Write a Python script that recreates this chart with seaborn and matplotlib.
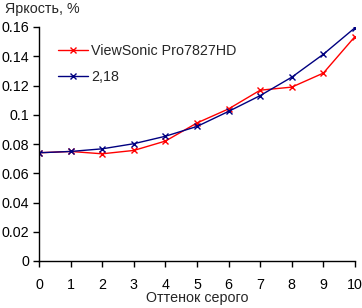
import matplotlib
matplotlib.use("Agg")
import matplotlib.pyplot as plt
import seaborn as sns
import pandas as pd

gray_levels = [0, 1, 2, 3, 4, 5, 6, 7, 8, 9, 10]
viewsonic = [0.074, 0.0749, 0.0733, 0.0756, 0.082, 0.0944, 0.104, 0.1168, 0.1189, 0.1285, 0.1535]
gamma_218 = [0.074, 0.0749, 0.0767, 0.0802, 0.0853, 0.092, 0.1023, 0.1131, 0.1257, 0.1414, 0.1595]
series_names = ["ViewSonic Pro7827HD", "2,18"]
y_ticks = [0, 0.02, 0.04, 0.06, 0.08, 0.1, 0.12, 0.14, 0.16]
y_tick_labels = ["0", "0.02", "0.04", "0.06", "0.08", "0.1", "0.12", "0.14", "0.16"]

df = pd.DataFrame({
    "x": gray_levels * 2,
    "y": viewsonic + gamma_218,
    "s": [series_names[0]] * len(gray_levels) + [series_names[1]] * len(gray_levels),
})

sns.set_style("ticks")
plt.rcParams["font.family"] = ["Liberation Sans", "DejaVu Sans"]
fs = 10.3
plt.rcParams["font.size"] = fs

fig = plt.figure(figsize=(3.62, 3.08), dpi=100)
ax = fig.add_axes([39 / 362, 47 / 308, (355 - 39) / 362, (261 - 27) / 308])

sns.lineplot(data=df, x="x", y="y", hue="s", palette=["#FF0000", "#000080"],
             marker="x", markersize=4, linewidth=1, ax=ax, legend=True)

for ln in ax.lines:
    ln.set_markeredgecolor(ln.get_color())
    ln.set_markeredgewidth(1)

ax.set_xlim(0, 10)
ax.set_ylim(0, 0.16)
ax.set_xticks(gray_levels)
ax.set_xticklabels([str(v) for v in gray_levels])
ax.set_yticks(y_ticks)
ax.set_yticklabels(y_tick_labels)
ax.tick_params(axis="both", direction="out", length=4, width=1, color="black",
               labelsize=fs, labelcolor="black", pad=3)
ax.tick_params(axis="x", pad=8)
for side in ["top", "right"]:
    ax.spines[side].set_visible(False)
for side in ["left", "bottom"]:
    ax.spines[side].set_color("black")
    ax.spines[side].set_linewidth(1)
ax.set_xlabel("")
ax.set_ylabel("")
ax.grid(False)

fig.text(5 / 362, 1 - 9 / 308, "Яркость, %", ha="left", va="center", fontsize=fs)
fig.text((39 + 355) / 2 / 362, 1 - 298 / 308, "Оттенок серого", ha="center", va="center", fontsize=fs)

leg = ax.legend(loc="upper left", bbox_to_anchor=(6 / 316, 1 - 4 / 234), frameon=False,
                fontsize=fs, handlelength=2.1, handletextpad=0.2, labelspacing=0.85)
for h in leg.legend_handles:
    h.set_markeredgecolor(h.get_color())
    h.set_markeredgewidth(1)

fig.savefig("out.png", dpi=100)
